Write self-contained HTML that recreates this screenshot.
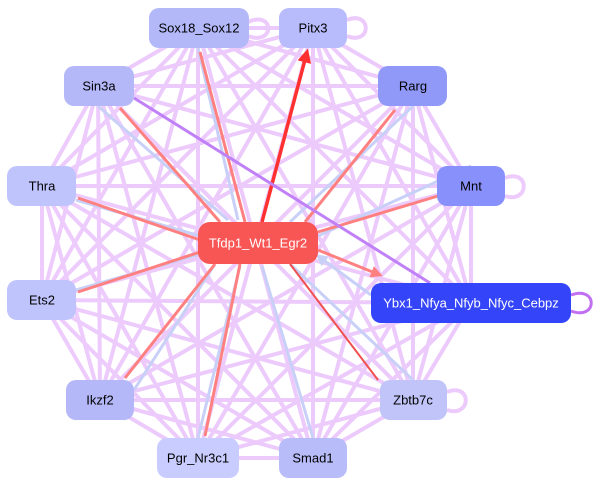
<!DOCTYPE html>
<html><head><meta charset="utf-8"><style>
body{margin:0;background:#fff}
svg{display:block}
text{font-family:"Liberation Sans",Arial,sans-serif;font-size:13px;text-anchor:middle;dominant-baseline:central}
</style></head><body>
<svg width="602" height="489" viewBox="0 0 602 489" xmlns="http://www.w3.org/2000/svg">
<defs>
<marker id="ap" markerWidth="4" markerHeight="4" refX="3" refY="2" orient="auto" markerUnits="strokeWidth"><path d="M0,0L4,2L0,4z" fill="#ecc8fc"/></marker>
<marker id="ar" markerWidth="4" markerHeight="4" refX="3" refY="2" orient="auto" markerUnits="strokeWidth"><path d="M0,0L4,2L0,4z" fill="#ff8080"/></marker>
<marker id="arr" markerWidth="4" markerHeight="4" refX="3" refY="2" orient="auto" markerUnits="strokeWidth"><path d="M0,0L4,2L0,4z" fill="#ff3030"/></marker>
<marker id="ab" markerWidth="4" markerHeight="4" refX="3" refY="2" orient="auto" markerUnits="strokeWidth"><path d="M0,0L4,2L0,4z" fill="#c8d0f8"/></marker>
</defs>
<g stroke="#ecc8fc" stroke-width="4" fill="none" opacity="0.95">
<path d="M198,28L313,28 M198,28L98,86 M198,28L413,86 M198,28L42,186 M198,28L471,186 M198,28L42,300 M198,28L471,303 M198,28L100,400 M198,28L413,400 M198,28L198,458 M198,28L313,458
M313,28L98,86 M313,28L413,86 M313,28L42,186 M313,28L471,186 M313,28L42,300 M313,28L471,303 M313,28L100,400 M313,28L413,400 M313,28L198,458 M313,28L313,458
M98,86L413,86 M98,86L42,186 M98,86L471,186 M98,86L42,300 M98,86L100,400 M98,86L413,400 M98,86L198,458 M98,86L313,458
M413,86L42,186 M413,86L471,186 M413,86L42,300 M413,86L471,303 M413,86L100,400 M413,86L413,400 M413,86L198,458 M413,86L313,458
M42,186L471,186 M42,186L42,300 M42,186L471,303 M42,186L100,400 M42,186L413,400 M42,186L198,458 M42,186L313,458
M471,186L42,300 M471,186L471,303 M471,186L100,400 M471,186L413,400 M471,186L198,458 M471,186L313,458
M42,300L471,303 M42,300L100,400 M42,300L413,400 M42,300L198,458 M42,300L313,458
M471,303L100,400 M471,303L413,400 M471,303L198,458 M471,303L313,458
M100,400L413,400 M100,400L198,458 M100,400L313,458 M413,400L198,458 M413,400L313,458 M198,458L313,458"/>
<path d="M248,22 C275,10 275,46 248,36 M347,20 C372,10 372,46 347,36 M505,178 C530,168 530,204 505,196 M447,392 C472,382 472,418 447,410"/>
</g>
<path d="M571,295 C598,285 598,321 571,311" stroke="#c070f0" stroke-width="3" fill="none"/>
<g stroke="#c8d0f8" stroke-width="3" fill="none" marker-end="url(#ab)">
<path d="M198,48L238,220 M98,106L228,220 M76,200L200,236 M76,290L200,254 M134,390L215,264 M198,438L240,266 M313,438L262,266 M413,380L290,264 M471,166L318,236 M413,106L290,222 M371,295L318,256"/>
</g>
<g stroke="#ff8080" stroke-width="3" fill="none" marker-end="url(#ar)">
<path d="M245,222L200,52 M220,222L120,108 M200,240L78,198 M200,252L78,292 M215,264L125,378 M240,264L205,436 M318,232L438,196 M305,222L395,110 M318,250L380,275"/>
</g>
<path d="M378,380L290,264" stroke="#f05050" stroke-width="2" fill="none"/>
<path d="M262,222L307,52" stroke="#ff3030" stroke-width="3.5" fill="none" marker-end="url(#arr)"/>
<path d="M134,98L430,283" stroke="#c080f8" stroke-width="3" fill="none"/>
<g>
<rect x="149" y="8" width="100" height="40" rx="10" fill="#b3b8f8"/><text x="199" y="28">Sox18_Sox12</text>
<rect x="279" y="8" width="68" height="40" rx="10" fill="#b8bcfc"/><text x="313" y="28">Pitx3</text>
<rect x="64" y="66" width="70" height="40" rx="10" fill="#b4b8f8"/><text x="99" y="86">Sin3a</text>
<rect x="378" y="66" width="69" height="40" rx="10" fill="#9098f8"/><text x="413" y="86">Rarg</text>
<rect x="7" y="166" width="69" height="40" rx="10" fill="#c0c4fc"/><text x="42" y="186">Thra</text>
<rect x="437" y="166" width="68" height="40" rx="10" fill="#8890fc"/><text x="471" y="186">Mnt</text>
<rect x="198" y="222" width="120" height="42" rx="12" fill="#f85555"/><text x="258" y="243" fill="#fff">Tfdp1_Wt1_Egr2</text>
<rect x="7" y="280" width="69" height="40" rx="10" fill="#c0c4fc"/><text x="42" y="300">Ets2</text>
<rect x="371" y="283" width="200" height="40" rx="10" fill="#3444f8"/><text x="471" y="303" fill="#fff">Ybx1_Nfya_Nfyb_Nfyc_Cebpz</text>
<rect x="66" y="380" width="68" height="40" rx="10" fill="#b4b8f8"/><text x="100" y="400">Ikzf2</text>
<rect x="380" y="380" width="67" height="40" rx="10" fill="#c0c4f8"/><text x="413" y="400">Zbtb7c</text>
<rect x="157" y="438" width="82" height="40" rx="10" fill="#c8ccff"/><text x="198" y="458">Pgr_Nr3c1</text>
<rect x="279" y="438" width="68" height="40" rx="10" fill="#b8bcf8"/><text x="313" y="458">Smad1</text>
</g>
</svg>
</body></html>
